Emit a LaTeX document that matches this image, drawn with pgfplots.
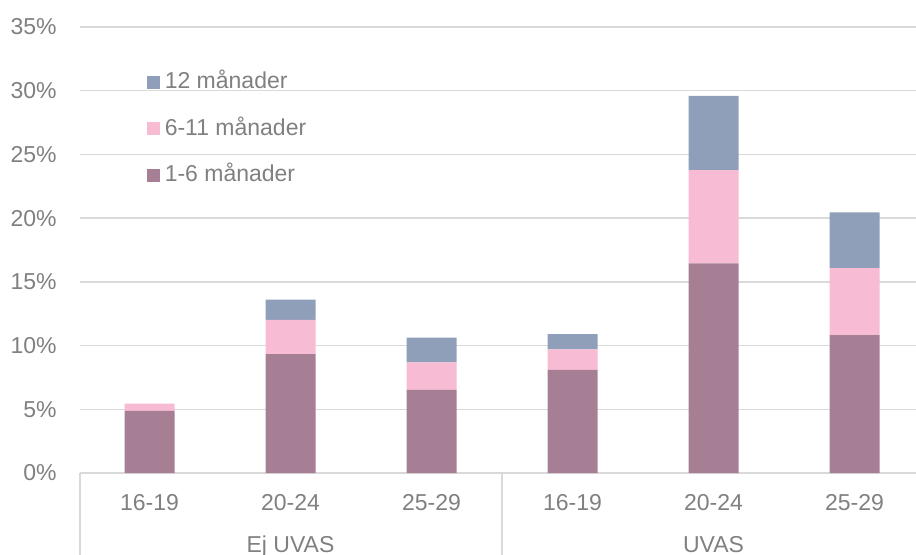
\documentclass[border=0pt]{standalone}
\usepackage{fontspec}
\setmainfont{Liberation Sans}
\usepackage{pgfplots}
\pgfplotsset{compat=1.18}

\definecolor{kort}{HTML}{A77F95}
\definecolor{mellan}{HTML}{F7BCD3}
\definecolor{lang}{HTML}{8F9FB9}
\definecolor{gridgrey}{HTML}{D9D9D9}
\definecolor{textgrey}{HTML}{808080}

\begin{document}
\begin{tikzpicture}
\path[use as bounding box] (0,0) rectangle (458pt,277pt);
\begin{axis}[
  at={(40pt,40.5pt)}, anchor=south west,
  scale only axis, width=418pt, height=223pt,
  ybar stacked, bar width=25pt,
  xmin=-0.493, xmax=5.436,
  ymin=0, ymax=35,
  xtick={0,1,2,3,4,5},
  xticklabels={16-19,20-24,25-29,16-19,20-24,25-29},
  ytick={0,5,10,15,20,25,30,35},
  yticklabels={0\%,5\%,10\%,15\%,20\%,25\%,30\%,35\%},
  major tick length=0pt,
  axis line style={draw=none},
  ymajorgrids, grid style={gridgrey, line width=0.75pt},
  tick label style={font=\fontsize{11.5}{13}\selectfont, text=textgrey},
  yticklabel style={anchor=east, inner sep=0pt, xshift=-11.5pt},
  xticklabel style={anchor=base, inner sep=0pt, yshift=-18.9pt},
  clip=false,
  reverse legend,
  legend cell align=left,
  legend image code/.code={\fill[#1] (0pt,-3.25pt) rectangle (6.5pt,3.25pt);},
  legend style={at={(rel axis cs:0.080,0.906)}, anchor=north west,
    draw=none, fill=none, inner sep=0pt, row sep=10.25pt,
    font=\fontsize{11.5}{13}\selectfont, text=textgrey,
    nodes={inner sep=1.25pt, text height=8.5pt, text depth=2pt},
    every even column/.style={column sep=0pt}},
  legend style={/tikz/every odd column/.append style={column sep=1pt}},
]
\addplot[fill=kort, draw=none] coordinates {(0,4.87) (1,9.32) (2,6.52) (3,8.09) (4,16.46) (5,10.83)};
\addlegendentry{1-6 månader}
\addplot[fill=mellan, draw=none] coordinates {(0,0.58) (1,2.69) (2,2.17) (3,1.62) (4,7.30) (5,5.24)};
\addlegendentry{6-11 månader}
\addplot[fill=lang, draw=none] coordinates {(0,0) (1,1.60) (2,1.94) (3,1.18) (4,5.84) (5,4.39)};
\addlegendentry{12 månader}

\draw[gridgrey, line width=0.75pt] (axis cs:-0.493,0) -- (axis cs:5.436,0);
\draw[gridgrey, line width=0.75pt] (axis cs:-0.493,0) -- ++(0pt,-45pt);
\draw[gridgrey, line width=0.75pt] (axis cs:2.5,0) -- ++(0pt,-45pt);
\node[anchor=base, inner sep=0pt, text=textgrey, font=\fontsize{11.5}{13}\selectfont]
  at ([yshift=-39.6pt]axis cs:1,0) {Ej UVAS};
\node[anchor=base, inner sep=0pt, text=textgrey, font=\fontsize{11.5}{13}\selectfont]
  at ([yshift=-39.6pt]axis cs:4,0) {UVAS};
\end{axis}
\end{tikzpicture}
\end{document}
